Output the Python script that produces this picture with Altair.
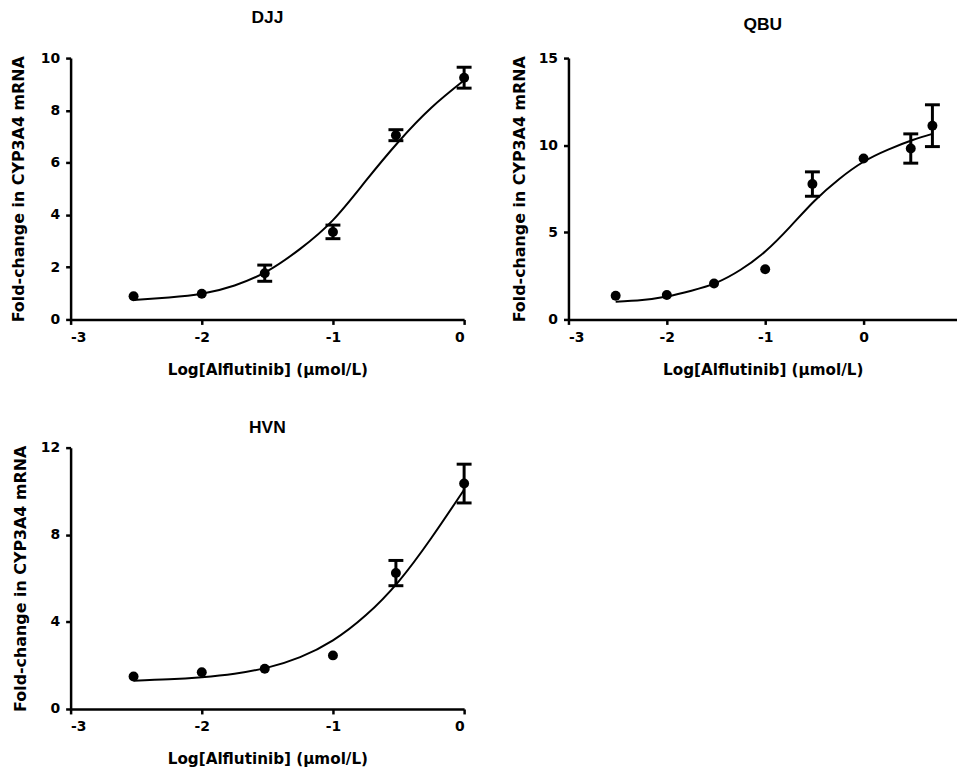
import altair as alt
import pandas as pd

FONT = "DejaVu Sans"
TFONT = "Liberation Sans"
X_TITLE = "Log[Alflutinib] (μmol/L)"
Y_TITLE = "Fold-change in CYP3A4 mRNA"

# ---- DJJ ----
djj_x = [-2.52, -2.0, -1.52, -1.0, -0.52, 0.0]
djj_y = [0.89, 0.98, 1.77, 3.35, 7.05, 9.25]
djj_err = [0.0, 0.0, 0.31, 0.26, 0.21, 0.40]
djj_cx = [-2.52, -2.25, -2.0, -1.75, -1.5, -1.25, -1.0, -0.75, -0.5, -0.25, 0.0]
djj_cy = [0.74, 0.84, 0.98, 1.30, 1.85, 2.70, 3.80, 5.30, 6.80, 8.10, 9.15]

# ---- QBU ----
qbu_x = [-2.52, -2.0, -1.52, -1.0, -0.52, 0.0, 0.48, 0.70]
qbu_y = [1.36, 1.40, 2.06, 2.88, 7.77, 9.24, 9.81, 11.12]
qbu_err = [0.0, 0.0, 0.0, 0.0, 0.70, 0.0, 0.84, 1.20]
qbu_cx = [-2.52, -2.25, -2.0, -1.75, -1.5, -1.25, -1.0, -0.75, -0.5, -0.25, 0.0, 0.25, 0.5, 0.70]
qbu_cy = [1.02, 1.12, 1.32, 1.65, 2.10, 2.85, 3.90, 5.30, 6.80, 8.05, 9.05, 9.75, 10.30, 10.65]

# ---- HVN ----
hvn_x = [-2.52, -2.0, -1.52, -1.0, -0.52, 0.0]
hvn_y = [1.49, 1.69, 1.85, 2.46, 6.24, 10.35]
hvn_err = [0.0, 0.0, 0.0, 0.0, 0.58, 0.89]
hvn_cx = [-2.52, -2.25, -2.0, -1.75, -1.5, -1.25, -1.0, -0.75, -0.5, -0.25, 0.0]
hvn_cy = [1.30, 1.36, 1.46, 1.62, 1.90, 2.38, 3.15, 4.30, 5.85, 7.85, 10.07]


def panel(name, px, py, perr, cx, cy, xmax, xticks, width, ymax, ystep, title_offset, ytitle_pad):
    pts = pd.DataFrame({"x": px, "y": py, "err": perr})
    pts["lo"] = pts["y"] - pts["err"]
    pts["hi"] = pts["y"] + pts["err"]
    bars = pts[pts["err"] > 0]
    curve = pd.DataFrame({"x": cx, "y": cy})

    xs = alt.Scale(domain=[-3, xmax], nice=False, zero=False)
    ys = alt.Scale(domain=[0, ymax], nice=False)
    xax = alt.Axis(values=xticks, title=X_TITLE,
                   labelExpr="'' + datum.value", titleFontSize=15.3, titlePadding=18)
    yax = alt.Axis(values=list(range(0, ymax + 1, ystep)), title=Y_TITLE,
                   labelExpr="'' + datum.value", titleFontSize=16, titlePadding=ytitle_pad)

    line = alt.Chart(curve).mark_line(color="black", strokeWidth=2, interpolate="natural").encode(
        x=alt.X("x:Q", scale=xs, axis=xax),
        y=alt.Y("y:Q", scale=ys, axis=yax),
    )
    rule = alt.Chart(bars).mark_rule(color="black", strokeWidth=3).encode(
        x="x:Q", y="lo:Q", y2="hi:Q"
    )
    cap_hi = alt.Chart(bars).mark_tick(color="black", orient="horizontal", size=15, thickness=3, opacity=1).encode(
        x="x:Q", y="hi:Q"
    )
    cap_lo = alt.Chart(bars).mark_tick(color="black", orient="horizontal", size=15, thickness=3, opacity=1).encode(
        x="x:Q", y="lo:Q"
    )
    dots = alt.Chart(pts).mark_circle(color="black", opacity=1, size=100).encode(
        x="x:Q", y="y:Q"
    )
    return alt.layer(line, rule, cap_hi, cap_lo, dots).properties(
        width=width,
        height=263,
        title=alt.TitleParams(name, font=TFONT, fontSize=17.5, fontWeight="bold",
                              anchor="middle", offset=title_offset, color="black"),
    )


p1 = panel("DJJ", djj_x, djj_y, djj_err, djj_cx, djj_cy, 0, [-3, -2, -1, 0], 396, 10, 2, 25, 14)
p2 = panel("QBU", qbu_x, qbu_y, qbu_err, qbu_cx, qbu_cy, 0.95, [-3, -2, -1, 0], 391, 15, 5, 18, 11)
p3 = panel("HVN", hvn_x, hvn_y, hvn_err, hvn_cx, hvn_cy, 0, [-3, -2, -1, 0], 396, 12, 4, 4, 12)

chart = alt.vconcat(
    alt.hconcat(p1, p2, spacing=39),
    alt.hconcat(p3),
    spacing=41,
).configure_view(stroke=None).configure_axis(
    grid=False,
    domainColor="black",
    domainWidth=2.5,
    tickColor="black",
    tickWidth=2.5,
    tickSize=5,
    labelFont=FONT,
    labelFontSize=14,
    labelFontWeight="bold",
    labelColor="black",
    labelPadding=6,
    titleFont=FONT,
    titleFontWeight="bold",
    titleColor="black",
).properties(padding={"top": -2, "left": 2, "right": 0, "bottom": 0})

chart.save("out.html", embed_options={"renderer": "svg", "actions": False})
